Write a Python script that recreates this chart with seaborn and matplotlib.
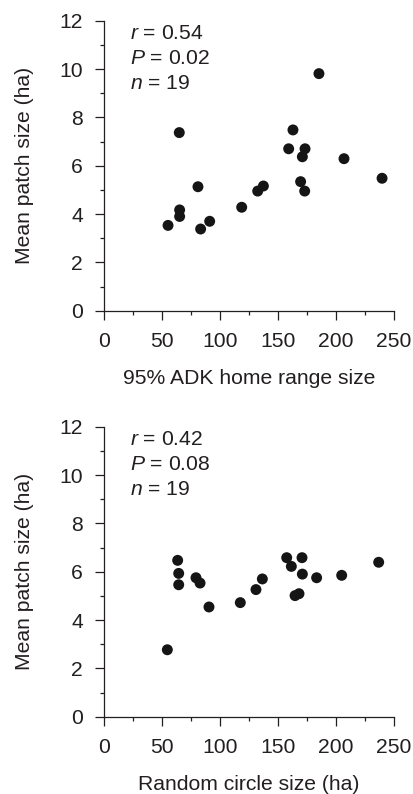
import matplotlib
matplotlib.use("Agg")
import matplotlib.pyplot as plt
from matplotlib.ticker import MultipleLocator
import seaborn as sns
import pandas as pd

# Top panel: 95% ADK home range size vs mean patch size
adk_home_range = [64.9, 185.3, 162.9, 159.2, 173.3, 171.0, 206.9, 239.7, 81.0, 137.4,
                  132.5, 169.5, 173.0, 118.7, 65.2, 65.2, 55.2, 83.3, 91.1]
adk_patch_size = [7.37, 9.81, 7.48, 6.70, 6.70, 6.37, 6.29, 5.48, 5.13, 5.16,
                  4.95, 5.34, 4.95, 4.28, 4.17, 3.90, 3.53, 3.38, 3.70]

# Bottom panel: random circle size vs mean patch size
circle_size = [63.5, 64.4, 64.4, 79.3, 82.8, 90.5, 54.6, 117.5, 131.0, 136.5,
               157.5, 161.5, 170.7, 171.0, 164.7, 168.1, 183.3, 204.9, 236.8]
circle_patch_size = [6.47, 5.93, 5.46, 5.75, 5.53, 4.54, 2.77, 4.72, 5.26, 5.70,
                     6.58, 6.22, 6.58, 5.90, 5.01, 5.09, 5.75, 5.85, 6.39]

x_labels = ["95% ADK home range size", "Random circle size (ha)"]
y_label = "Mean patch size (ha)"
stats = [["$r$ = 0.54", "$P$ = 0.02", "$n$ = 19"],
         ["$r$ = 0.42", "$P$ = 0.08", "$n$ = 19"]]

sns.set_style("ticks")
plt.rcParams["font.family"] = ["Liberation Sans", "DejaVu Sans"]
plt.rcParams["mathtext.fontset"] = "custom"
plt.rcParams["mathtext.it"] = "Liberation Sans:italic"
plt.rcParams["mathtext.rm"] = "Liberation Sans"

W, H = 414, 794
fig = plt.figure(figsize=(W / 100, H / 100), dpi=100)
ink = "#231f20"
fs = 15.2

panels = [
    (pd.DataFrame({"x": adk_home_range, "y": adk_patch_size}), 20.7, 310.7),
    (pd.DataFrame({"x": circle_size, "y": circle_patch_size}), 426.7, 716.7),
]

for i, (df, top, bottom) in enumerate(panels):
    ax = fig.add_axes([104 / W, 1 - bottom / H, 290 / W, (bottom - top) / H])
    sns.scatterplot(data=df, x="x", y="y", ax=ax, s=62, color="#151515",
                    edgecolor="none", linewidth=0, clip_on=False)
    ax.set_xlim(0, 250)
    ax.set_ylim(0, 12)
    ax.xaxis.set_major_locator(MultipleLocator(50))
    ax.xaxis.set_minor_locator(MultipleLocator(25))
    ax.yaxis.set_major_locator(MultipleLocator(2))
    ax.yaxis.set_minor_locator(MultipleLocator(1))
    ax.tick_params(which="major", direction="out", length=6.4, width=0.9,
                   color=ink, labelsize=fs, labelcolor=ink)
    ax.tick_params(axis="x", which="major", pad=8.8)
    ax.tick_params(axis="y", which="major", pad=8.8)
    ax.tick_params(which="minor", direction="out", length=3.0, width=0.9, color=ink)
    for side in ["top", "right"]:
        ax.spines[side].set_visible(False)
    for side in ["left", "bottom"]:
        ax.spines[side].set_linewidth(0.9)
        ax.spines[side].set_color(ink)
    ax.set_xlabel(x_labels[i], fontsize=fs, color=ink, labelpad=13)
    ax.set_ylabel(y_label, fontsize=fs, color=ink, labelpad=18)
    for j, (s, yf) in enumerate(zip(stats[i], [0.957, 0.870, 0.784])):
        ax.text(0.09, yf, s, transform=ax.transAxes, fontsize=fs, color=ink,
                ha="left", va="center")

fig.savefig("out.png", dpi=100)
